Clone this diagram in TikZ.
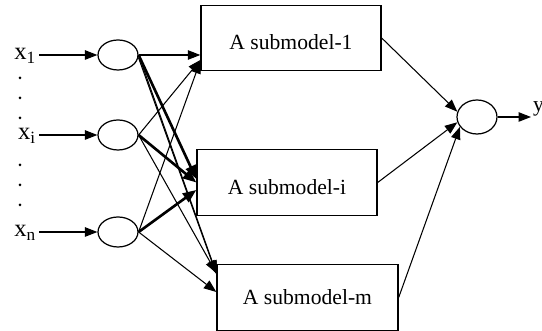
\documentclass[tikz,border=0pt]{standalone}
\usepackage{fontspec}
\setmainfont{Liberation Serif}
\usepackage{tikz}
\usetikzlibrary{shapes.geometric, arrows.meta, positioning}
\tikzset{
    unit/.style={ellipse, draw, line width=0.7pt, minimum width=0.8cm, minimum height=0.6cm, inner sep=0pt},
    submodel/.style={rectangle, draw, line width=0.8pt, minimum width=3.6cm, minimum height=1.31cm, text centered},
    link/.style={-{Triangle[length=0.25cm, width=0.19cm]}, line width=0.6pt},
    strong/.style={-{Triangle[length=0.27cm, width=0.21cm]}, line width=1.5pt}
}

\begin{document}
\begin{tikzpicture}[
    x=0.02cm, y=0.02cm,
    font=\fontsize{12.3}{14}\selectfont,
    inlabel/.style={anchor=east, inner sep=0.05cm, font=\fontsize{14}{16}\selectfont},
    dotmark/.style={circle, fill, inner sep=0pt, minimum size=0.06cm},
    lowtext/.style={text height=0.6cm, text depth=0.12cm}
]
    \useasboundingbox (0,0) rectangle (542,331);

    % Inputs
    \node[inlabel] (x1) at (39,275) {x\textsubscript{1}};
    \node[inlabel] (xi) at (39,195) {x\textsubscript{i}};
    \node[inlabel] (xn) at (39,98) {x\textsubscript{n}};
    \node[dotmark] (d1) at (20,253) {};
    \node[dotmark] (d2) at (20,233) {};
    \node[dotmark] (d3) at (20,213) {};
    \node[dotmark] (d4) at (20,166) {};
    \node[dotmark] (d5) at (20,146) {};
    \node[dotmark] (d6) at (20,126) {};

    % Hidden units
    \node[unit] (c1) at (118,276) {};
    \node[unit] (c2) at (118,196) {};
    \node[unit] (c3) at (118,99) {};

    % Submodels
    \node[submodel, lowtext] (sub1) at (291,293) {A submodel-1};
    \node[submodel, lowtext] (subi) at (287,148.5) {A submodel-i};
    \node[submodel, minimum width=3.62cm] (subm) at (307.5,33.5) {A submodel-m};

    % Output
    \node[unit, minimum height=0.68cm] (out) at (477,214) {};
    \node[anchor=west, inner sep=1pt] (y) at (531,222) {y};

    % Connections
    \draw[link] (x1.east |- c1) -- (c1);
    \draw[link] (xi.east |- c2) -- (c2);
    \draw[link] (xn.east |- c3) -- (c3);

    \draw[link] (c1.east) -- (c1 -| sub1.west);
    \draw[link] (c2.east) -- ([yshift=-0.44cm]sub1.west);
    \draw[link] (c3.east) -- ([yshift=-0.46cm]sub1.west);

    \draw[strong] (c1.east) -- ([yshift=0.07cm]subi.west);
    \draw[strong] (c2.east) -- (subi.west);
    \draw[strong] (c3.east) -- ([yshift=-0.15cm]subi.west);

    \draw[link] (c1.east) -- ([yshift=0.49cm]subm.west);
    \draw[link] ([yshift=-0.06cm]c1.east) -- ([yshift=0.47cm]subm.west);
    \draw[link] (c2.east) -- ([yshift=0.49cm]subm.west);
    \draw[link] (c3.east) -- ([yshift=0.11cm]subm.west);

    \draw[link] (sub1.east) -- (out.165);
    \draw[link] (subi.east) -- (out.195);
    \draw[link] (subm.east) -- (out.210);
    \draw[link] (out) -- (out -| y.west);
\end{tikzpicture}
\end{document}
